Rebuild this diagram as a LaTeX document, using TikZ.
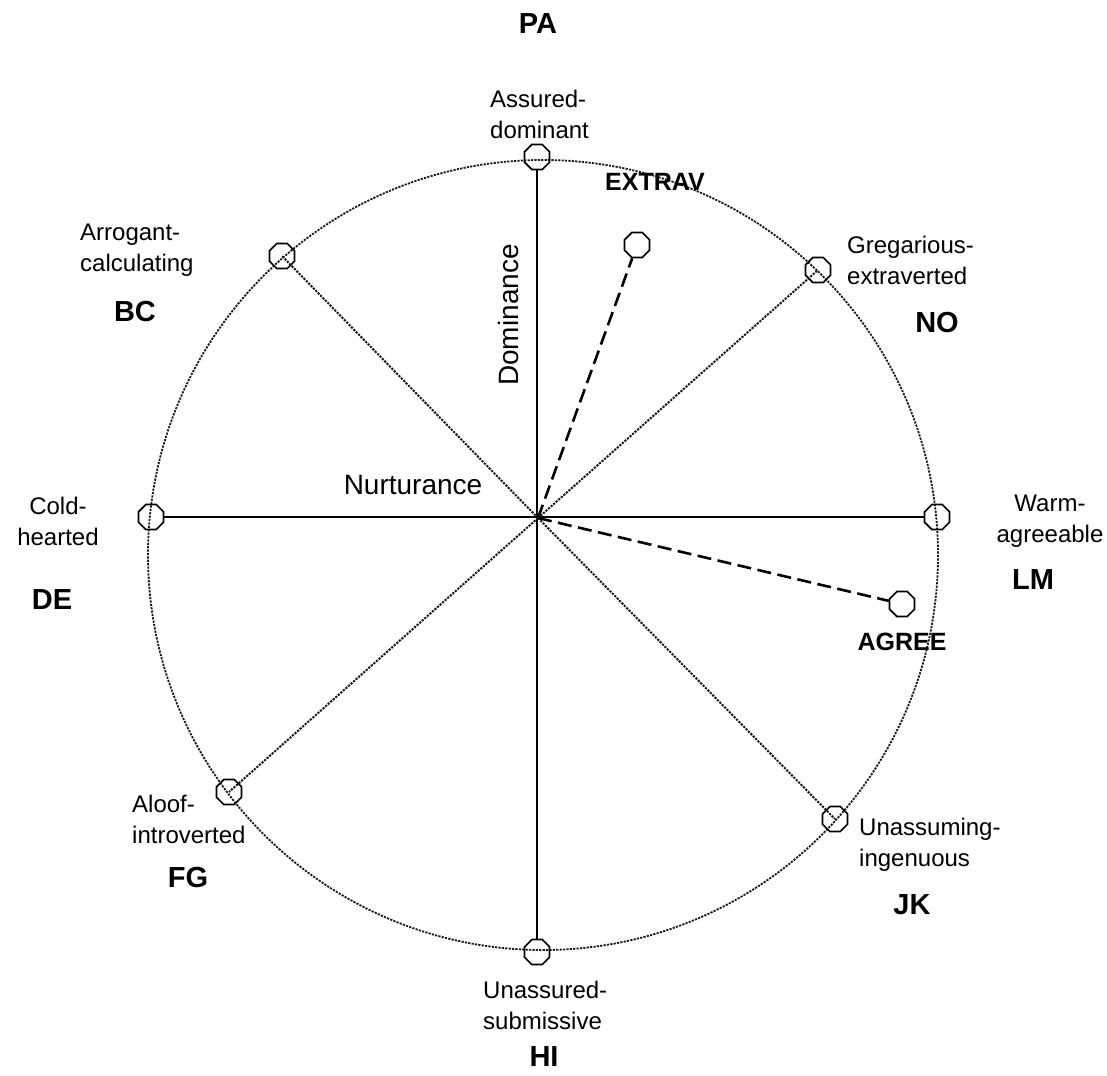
\documentclass[tikz,border=0pt]{standalone}
\usepackage{fontspec}
\setmainfont{Liberation Sans}
\usetikzlibrary{shapes.geometric}
\begin{document}
\begin{tikzpicture}[x=1pt,y=-1pt,
  marker/.style={draw, regular polygon, regular polygon sides=8,
    minimum size=27pt, inner sep=0pt, line width=1.6pt},
  lbl/.style={font=\fontsize{24}{31}\selectfont, align=left, inner sep=0pt, anchor=west},
  clbl/.style={font=\fontsize{24}{31}\selectfont, align=center, inner sep=0pt},
  code/.style={font=\fontsize{29}{34}\selectfont\bfseries, inner sep=0pt},
  scalename/.style={font=\fontsize{25}{30}\selectfont\bfseries, inner sep=0pt},
  axislbl/.style={font=\fontsize{28}{33}\selectfont, inner sep=0pt},
  axis/.style={line width=1.8pt},
  octant/.style={line width=2pt, black!90, dash pattern=on 2.2pt off 1.2pt},
  rim/.style={line width=1.8pt, black!90, dash pattern=on 2.2pt off 1.2pt},
  vector/.style={line width=2.6pt, dash pattern=on 14pt off 6.5pt}]
\useasboundingbox (0,0) rectangle (1107,1075);

% circumplex rim
\draw[rim] (543,555) circle[radius=395];

% centre of the axes
\coordinate (o) at (538,518);

% octant markers
\node[marker] (pa) at (537,157) {};
\node[marker] (hi) at (537,952) {};
\node[marker] (de) at (151,517) {};
\node[marker] (lm) at (937,517) {};
\node[marker] (bc) at (282,256) {};
\node[marker] (no) at (818,270) {};
\node[marker] (fg) at (229,792) {};
\node[marker] (jk) at (835,819) {};

% scale markers
\node[marker] (ex) at (637,245) {};
\node[marker] (ag) at (902,604) {};

% main axes
\draw[axis] (pa) -- (hi);
\draw[axis] (de) -- (lm);

% diagonal octant lines
\draw[octant] (o) -- (bc.center);
\draw[octant] (o) -- (no.center);
\draw[octant] (o) -- (fg.center);
\draw[octant] (o) -- (jk.center);

% scale vectors
\draw[vector] (o) -- (ex);
\draw[vector] (o) -- (ag);

% axis names
\node[axislbl, rotate=90] (dom) at (508,315) {Dominance};
\node[axislbl] (nur) at (413,485) {Nurturance};

% scale names
\node[scalename] (exl) at (655,182) {EXTRAV};
\node[scalename] (agl) at (902,642) {AGREE};

% octant descriptions
\node[lbl] (t-pa) at (490,114) {Assured-\\dominant};
\node[lbl] (t-bc) at (80,250) {Arrogant-\\calculating};
\node[lbl] (t-no) at (847,260) {Gregarious-\\extraverted};
\node[clbl] (t-de) at (58,521) {Cold-\\hearted};
\node[clbl] (t-lm) at (1050,521) {Warm-\\agreeable};
\node[lbl] (t-fg) at (132,819) {Aloof-\\introverted};
\node[lbl] (t-jk) at (859,845) {Unassuming-\\ingenuous};
\node[lbl] (t-hi) at (483,1005) {Unassured-\\submissive};

% octant codes
\node[code] (c-pa) at (538,24) {PA};
\node[code] (c-bc) at (135,312) {BC};
\node[code] (c-no) at (937,323) {NO};
\node[code] (c-de) at (52,600) {DE};
\node[code] (c-lm) at (1033,580) {LM};
\node[code] (c-fg) at (188,878) {FG};
\node[code] (c-jk) at (912,905) {JK};
\node[code] (c-hi) at (544,1057) {HI};
\end{tikzpicture}
\end{document}
